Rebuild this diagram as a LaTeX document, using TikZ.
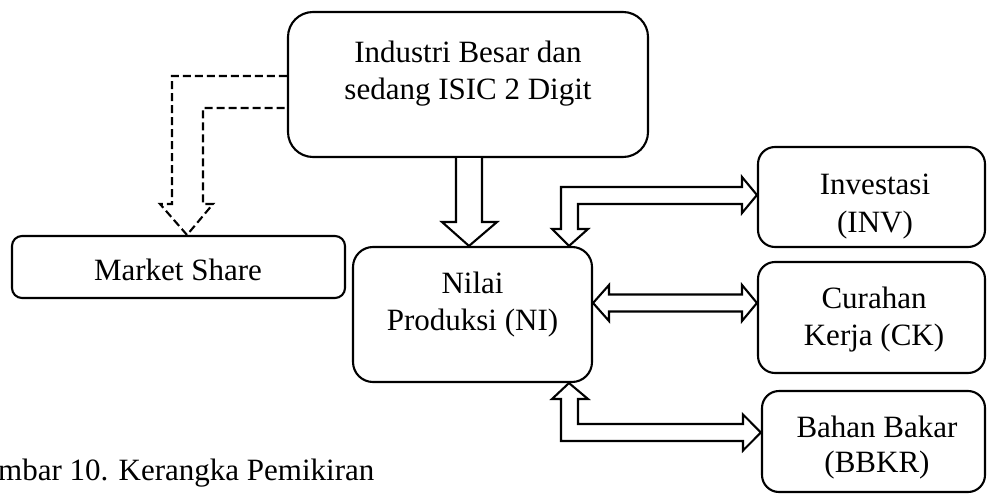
\documentclass[tikz,border=0pt]{standalone}
\usepackage{fontspec}
\setmainfont{Liberation Serif}
\usetikzlibrary{calc}
\begin{document}
\begin{tikzpicture}[x=1pt,y=-1pt,
  box/.style={draw,line width=2.1pt,inner sep=0pt},
  txt/.style={anchor=base,inner sep=0pt,font=\fontsize{31}{37}\selectfont},
  blk/.style={draw,line width=2.1pt,line join=miter,fill=white},
  dblk/.style={draw,line width=2.1pt,dash pattern=on 8pt off 4pt,line join=miter}]
\useasboundingbox (0,0) rectangle (987,500);
% boxes
\node[box,rounded corners=25pt,minimum width=360pt,minimum height=145pt] (top) at (468,84.5) {};
\node[box,rounded corners=10pt,minimum width=333pt,minimum height=62pt] (ms) at (178.5,267) {};
\node[box,rounded corners=20pt,minimum width=239pt,minimum height=135pt] (ni) at (472.5,314.5) {};
\node[box,rounded corners=17pt,minimum width=227pt,minimum height=100pt] (inv) at (871.5,197) {};
\node[box,rounded corners=17pt,minimum width=227pt,minimum height=111pt] (ck) at (871.5,317.5) {};
\node[box,rounded corners=17pt,minimum width=223pt,minimum height=101pt] (bb) at (873.5,441.5) {};
% texts
\node[txt] (t1) at (468,63) {Industri Besar dan};
\node[txt] (t2) at (468,100) {sedang ISIC 2 Digit};
\node[txt] (t3) at (178,280) {Market Share};
\node[txt] (t4) at (472.5,293) {Nilai};
\node[txt] (t5) at (472.5,330) {Produksi (NI)};
\node[txt] (t6) at (875,194) {Investasi};
\node[txt] (t7) at (875,232) {(INV)};
\node[txt] (t8) at (874,308) {Curahan};
\node[txt] (t9) at (874,345) {Kerja (CK)};
\node[txt] (t10) at (877,437) {Bahan Bakar};
\node[txt] (t11) at (877,472) {(BBKR)};
\node[txt,anchor=base west] (cap) at (-2,480) {mbar 10. Kerangka Pemikiran};
% arrows
\draw[blk] (top.south -| 456,0) -- (456,222) -- (442,222) -- (ni.north -| 469,0) -- (497,222) -- (482,222) -- (top.south -| 482,0);
\draw[dblk] (top.west |- 0,76) -- (172,76) -- (172,204) -- (160,204) -- (ms.north -| 187,0) -- (213,204) -- (203,204) -- (203,108) -- (top.west |- 0,108);
\draw[blk] (ni.north -| 569,0) -- (552,229) -- (561,229) -- (561,187) -- (742,187) -- (742,177) -- (inv.west |- 0,195) -- (742,213) -- (742,204) -- (578,204) -- (578,229) -- (588,229) -- cycle;
\draw[blk] (ni.east |- 0,303) -- (609,285) -- (609,294.5) -- (742,294.5) -- (742,285) -- (ck.west |- 0,303) -- (742,321) -- (742,311.5) -- (609,311.5) -- (609,321) -- cycle;
\draw[blk] (ni.south -| 569,0) -- (588,399) -- (578,399) -- (578,424) -- (743,424) -- (743,414.5) -- (bb.west |- 0,432.5) -- (743,450.5) -- (743,441) -- (561,441) -- (561,399) -- (552,399) -- cycle;
\end{tikzpicture}
\end{document}
